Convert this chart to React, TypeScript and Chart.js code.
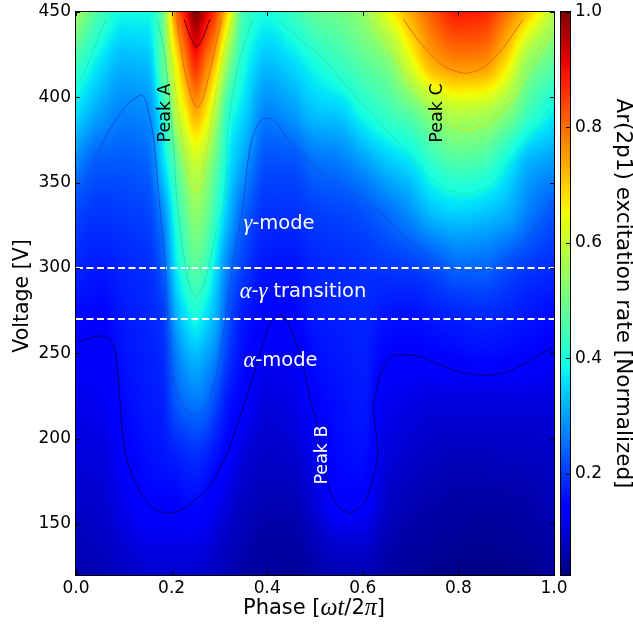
import React, { useEffect, useRef } from "react";
import { Chart, registerables } from "chart.js";

Chart.register(...registerables);

// ---------- data ----------
const phases = [0, 0.05, 0.1, 0.15, 0.18, 0.21, 0.23, 0.25, 0.27, 0.29, 0.32, 0.35, 0.4, 0.45, 0.5, 0.55, 0.6, 0.65, 0.7, 0.75, 0.8, 0.85, 0.9, 0.95, 1];
const voltages = [120, 140, 160, 190, 220, 250, 270, 300, 330, 360, 390, 420, 450];
const v120 = [.06, .068, .08, .09, .09, .09, .09, .09, .085, .08, .068, .055, .05, .045, .055, .068, .068, .055, .045, .035, .03, .03, .03, .035, .055];
const v140 = [.075, .08, .097, .115, .115, .115, .115, .115, .11, .097, .08, .068, .055, .055, .075, .097, .097, .068, .055, .05, .045, .04, .045, .05, .06];
const v160 = [.085, .09, .115, .142, .142, .142, .15, .15, .14, .125, .097, .08, .068, .068, .097, .14, .136, .085, .068, .06, .055, .055, .055, .06, .075];
const v190 = [.103, .103, .136, .158, .165, .175, .185, .19, .18, .163, .136, .103, .085, .09, .12, .152, .158, .103, .09, .08, .075, .075, .08, .08, .085];
const v220 = [.115, .12, .152, .169, .175, .23, .25, .26, .25, .215, .163, .14, .103, .11, .142, .158, .169, .12, .11, .103, .103, .103, .103, .103, .103];
const v250 = [.132, .136, .163, .175, .186, .27, .31, .33, .31, .28, .198, .158, .126, .126, .158, .169, .175, .146, .142, .146, .152, .158, .152, .146, .132];
const v270 = [.152, .146, .169, .181, .195, .31, .36, .39, .36, .32, .22, .169, .146, .146, .169, .175, .181, .163, .158, .169, .175, .181, .175, .163, .152];
const v300 = [.181, .169, .181, .19, .23, .37, .43, .47, .44, .37, .26, .205, .165, .163, .181, .186, .192, .198, .203, .22, .245, .245, .22, .198, .186];
const v330 = [.209, .195, .2, .21, .27, .41, .48, .53, .5, .43, .32, .24, .19, .19, .203, .209, .22, .245, .28, .325, .34, .33, .31, .26, .22];
const v360 = [.27, .23, .23, .24, .34, .47, .55, .6, .56, .49, .365, .3, .22, .22, .25, .26, .29, .33, .36, .42, .45, .44, .38, .31, .29];
const v390 = [.355, .3, .27, .28, .39, .58, .66, .73, .68, .58, .41, .355, .27, .29, .33, .34, .39, .43, .47, .54, .58, .57, .52, .43, .37];
const v420 = [.44, .365, .32, .33, .47, .66, .78, .87, .8, .72, .52, .4, .33, .355, .395, .43, .47, .51, .63, .74, .77, .765, .68, .53, .47];
const v450 = [.56, .45, .39, .39, .48, .8, .9, 1, .93, .86, .67, .45, .395, .43, .48, .5, .54, .64, .74, .83, .89, .88, .8, .7, .58];
const heatRows = [v120, v140, v160, v190, v220, v250, v270, v300, v330, v360, v390, v420, v450];

const contourNavy = [[0, 256.5], [.02, 258], [.049, 260.2], [.073, 257.5], [.0835, 248.7], [.092, 222.4], [.094, 210.7], [.104, 190.2], [.125, 173.8], [.157, 159.8], [.191, 156.3], [.219, 158], [.261, 166.8], [.288, 175.6], [.317, 192], [.355, 222.4], [.379, 244], [.407, 268.2], [.428, 272.6], [.442, 269], [.47, 247.8], [.491, 222.4], [.505, 206.8], [.525, 175.6], [.543, 162], [.574, 156.5], [.605, 163], [.631, 190.2], [.621, 218.5], [.623, 222.4], [.64, 240], [.658, 247.8], [.685, 249], [.72, 248.1], [.755, 243.9], [.804, 239], [.856, 237], [.901, 239], [.943, 244.8], [.999, 253.6]];
const contourBlue = [[.001, 347.2], [.014, 347.6], [.031, 358], [.073, 382.3], [.108, 396], [.139, 401.2], [.153, 390.1], [.163, 374.5], [.174, 339.4], [.186, 304.3], [.191, 271.1], [.196, 247.8], [.216, 222.4], [.23, 216.5], [.246, 214.2], [.264, 216.5], [.278, 222.4], [.296, 240], [.313, 271.1], [.33, 306.2], [.351, 339.4], [.358, 358.9], [.369, 376.5], [.386, 386.2], [.404, 387.8], [.421, 384.3], [.449, 373.5], [.511, 356], [.553, 349.2], [.602, 339.4], [.637, 332.6], [.685, 318.9], [.741, 306.2], [.79, 299.8], [.828, 298], [.866, 299.8], [.915, 308.2], [.957, 321.9], [.999, 339.4]];
const contourTealLeft = [[.001, 406.7], [.01, 409.6], [.031, 423.3], [.049, 437], [.063, 445.7]];
const contourTealPeakA = [[.17, 445.7], [.183, 430], [.195, 400], [.205, 368.7], [.211, 339.4], [.233, 294.5], [.25, 282.8], [.268, 291], [.296, 323.8], [.31, 339.4], [.317, 378.4], [.338, 417.4], [.369, 445.7]];
const contourTealRight = [[.421, 445.7], [.477, 432], [.511, 424.3], [.581, 401.8], [.651, 380.4], [.72, 358.9], [.769, 347.2], [.814, 343.3], [.859, 347.2], [.915, 362.8], [.964, 382.3], [.999, 397.9]];
const contourYellowPeakA = [[.19, 445.7], [.205, 410], [.222, 375], [.24, 350], [.25, 345], [.262, 350], [.28, 380], [.3, 415], [.325, 445.7]];
const contourYellowPeakC = [[.616, 445.7], [.651, 431], [.699, 409.6], [.755, 390.1], [.811, 381.4], [.859, 384.3], [.908, 397.9], [.957, 419.4], [.999, 440.8]];
const contourOrangePeakA = [[.211, 445.7], [.226, 417.4], [.244, 397.9], [.254, 394], [.264, 397.9], [.282, 417.4], [.304, 445.7]];
const contourOrangePeakC = [[.685, 445.7], [.72, 432], [.769, 418.4], [.814, 414.1], [.852, 417.4], [.894, 429.1], [.935, 445.7]];
const contourDarkRed = [[.226, 445.7], [.24, 435], [.252, 429.5], [.264, 434], [.28, 445.7]];

const transitionVoltages = [300, 270];
const xTicks = [0, 0.2, 0.4, 0.6, 0.8, 1];
const yTicks = [150, 200, 250, 300, 350, 400, 450];
const barTicks = [0.2, 0.4, 0.6, 0.8, 1];
const V_MIN = 0.025;
const V_MAX = 1;

const FONT = '"DejaVu Sans"';
const MATH = '"Liberation Serif"';

// ---------- helpers ----------
function ramp(t: number, pts: number[][]) {
  if (t <= pts[0][0]) return pts[0][1];
  for (let i = 1; i < pts.length; i++) {
    if (t <= pts[i][0]) {
      const [a, b] = pts[i - 1];
      const [c, d] = pts[i];
      return b + ((t - a) / (c - a)) * (d - b);
    }
  }
  return pts[pts.length - 1][1];
}
function jet(v: number) {
  const t = Math.min(1, Math.max(0, (v - V_MIN) / (V_MAX - V_MIN)));
  return [
    255 * ramp(t, [[0.35, 0], [0.66, 1], [0.89, 1], [1, 0.5]]),
    255 * ramp(t, [[0.125, 0], [0.375, 1], [0.64, 1], [0.91, 0]]),
    255 * ramp(t, [[0, 0.5], [0.11, 1], [0.34, 1], [0.65, 0]]),
  ];
}
// smooth shading between the grid cells, only used for painting
function smooth(xs: number[], ys: number[], x: number) {
  let i = 0;
  while (i < xs.length - 2 && x > xs[i + 1]) i++;
  const h = xs[i + 1] - xs[i];
  const d = (k: number) => (ys[k + 1] - ys[k]) / (xs[k + 1] - xs[k]);
  const slope = (k: number) => {
    if (k === 0) return d(0);
    if (k === xs.length - 1) return d(k - 1);
    const a = d(k - 1), b = d(k);
    if (a * b <= 0) return 0;
    return (2 * a * b) / (a + b);
  };
  const t = Math.min(1, Math.max(0, (x - xs[i]) / h));
  const t2 = t * t, t3 = t2 * t;
  return (2 * t3 - 3 * t2 + 1) * ys[i] + (t3 - 2 * t2 + t) * h * slope(i) + (-2 * t3 + 3 * t2) * ys[i + 1] + (t3 - t2) * h * slope(i + 1);
}

type Seg = [string, boolean?];
function drawRich(ctx: CanvasRenderingContext2D, segs: Seg[], cx: number, cy: number, size: number, color: string, rot = 0) {
  ctx.save();
  ctx.translate(cx, cy);
  ctx.rotate(rot);
  ctx.fillStyle = color;
  ctx.textBaseline = "middle";
  ctx.textAlign = "left";
  const fontOf = (m?: boolean) => (m ? `italic ${size * 1.15}px ${MATH}` : `${size}px ${FONT}`);
  let w = 0;
  for (const [s, m] of segs) {
    ctx.font = fontOf(m);
    w += ctx.measureText(s).width;
  }
  let x = -w / 2;
  for (const [s, m] of segs) {
    ctx.font = fontOf(m);
    ctx.fillText(s, x, 0);
    x += ctx.measureText(s).width;
  }
  ctx.restore();
}

const heatPlugin = {
  id: "heat",
  beforeDatasetsDraw(chart: any) {
    const { ctx, chartArea: a, scales } = chart;
    const W = Math.round(a.right - a.left), H = Math.round(a.bottom - a.top);
    const off = document.createElement("canvas");
    off.width = W; off.height = H;
    const octx = off.getContext("2d")!;
    const img = octx.createImageData(W, H);
    const colValues: number[][] = [];
    for (let px = 0; px < W; px++) {
      const ph = scales.x.getValueForPixel(a.left + px + 0.5);
      colValues.push(heatRows.map((r) => smooth(phases, r, ph)));
    }
    for (let py = 0; py < H; py++) {
      const vol = scales.y.getValueForPixel(a.top + py + 0.5);
      for (let px = 0; px < W; px++) {
        const [r, g, b] = jet(smooth(voltages, colValues[px], vol));
        const o = (py * W + px) * 4;
        img.data[o] = r; img.data[o + 1] = g; img.data[o + 2] = b; img.data[o + 3] = 255;
      }
    }
    octx.putImageData(img, 0, 0);
    ctx.drawImage(off, a.left, a.top);
  },
};

const framePlugin = {
  id: "frame",
  afterDatasetsDraw(chart: any) {
    const { ctx, chartArea: a, scales } = chart;
    const L = 4;
    ctx.save();
    ctx.strokeStyle = "#000";
    ctx.lineWidth = 1;
    ctx.beginPath();
    xTicks.forEach((t) => {
      const x = Math.round(scales.x.getPixelForValue(t)) + 0.5;
      ctx.moveTo(x, a.bottom); ctx.lineTo(x, a.bottom - L);
      ctx.moveTo(x, a.top); ctx.lineTo(x, a.top + L);
    });
    yTicks.forEach((t) => {
      const y = Math.round(scales.y.getPixelForValue(t)) + 0.5;
      ctx.moveTo(a.left, y); ctx.lineTo(a.left + L, y);
      ctx.moveTo(a.right, y); ctx.lineTo(a.right - L, y);
    });
    ctx.stroke();
    ctx.strokeRect(a.left - 0.5, a.top - 0.5, a.right - a.left + 1, a.bottom - a.top + 1);
    ctx.restore();
    const BLACK = "#000", WHITE = "#fff";
    const up = -Math.PI / 2;
    drawRich(ctx, [["Peak A"]], 165, 113, 17.5, BLACK, up);
    drawRich(ctx, [["Peak C"]], 437, 113, 17.5, BLACK, up);
    drawRich(ctx, [["Peak B"]], 322, 455, 17.5, WHITE, up);
    drawRich(ctx, [["γ", true], ["-mode"]], 279, 224, 19.5, WHITE);
    drawRich(ctx, [["α", true], ["-", false], ["γ", true], [" transition"]], 303, 292, 19.5, WHITE);
    drawRich(ctx, [["α", true], ["-mode"]], 280.5, 361, 19.5, WHITE);
    drawRich(ctx, [["Phase ["], ["ωt", true], ["/", false], ["2", false], ["π", true], ["]"]], 314, 609, 21, BLACK);
    drawRich(ctx, [["Voltage [V]"]], 23, 296, 20.5, BLACK, up);
  },
};

const barPlugin = {
  id: "bar",
  beforeDatasetsDraw(chart: any) {
    const { ctx, chartArea: a, scales } = chart;
    for (let py = Math.round(a.top); py < a.bottom; py++) {
      const [r, g, b] = jet(scales.y.getValueForPixel(py + 0.5));
      ctx.fillStyle = `rgb(${r},${g},${b})`;
      ctx.fillRect(a.left, py, a.right - a.left, 1);
    }
    ctx.save();
    ctx.strokeStyle = "#000";
    ctx.lineWidth = 1;
    ctx.beginPath();
    barTicks.forEach((t) => {
      const y = Math.round(scales.y.getPixelForValue(t)) + 0.5;
      ctx.moveTo(a.right, y); ctx.lineTo(a.right - 4, y);
    });
    ctx.stroke();
    ctx.strokeRect(a.left - 0.5, a.top - 0.5, a.right - a.left + 1, a.bottom - a.top + 1);
    ctx.restore();
  },
};

const line = (label: string, pts: number[][], color: string) => ({
  label,
  data: pts.map(([x, y]) => ({ x, y })),
  borderColor: color,
  borderWidth: 1,
  pointRadius: 0,
  showLine: true,
  tension: 0.25,
});

const noPad = (s: any) => {
  s.paddingTop = 0; s.paddingBottom = 0; s.paddingLeft = 0; s.paddingRight = 0;
};

export default function App() {
  const mainRef = useRef<HTMLCanvasElement>(null);
  const barRef = useRef<HTMLCanvasElement>(null);
  useEffect(() => {
    const main = new Chart(mainRef.current!, {
      type: "scatter",
      data: {
        datasets: [
          line("level 0.14", contourNavy, "#00006e"),
          line("level 0.25", contourBlue, "#1450dc"),
          line("level 0.4 a", contourTealLeft, "#28e6b4"),
          line("level 0.4 b", contourTealPeakA, "#28e6b4"),
          line("level 0.4 c", contourTealRight, "#28e6b4"),
          line("level 0.55 a", contourYellowPeakA, "#d2e628"),
          line("level 0.55 b", contourYellowPeakC, "#d2e628"),
          line("level 0.75 a", contourOrangePeakA, "#f06414"),
          line("level 0.75 b", contourOrangePeakC, "#f06414"),
          line("level 0.97", contourDarkRed, "#5a0014"),
          ...transitionVoltages.map((v) => ({
            label: `${v} V`,
            data: [{ x: 0, y: v }, { x: 1, y: v }],
            borderColor: "#fff",
            borderWidth: 2,
            borderDash: [7, 3.5],
            pointRadius: 0,
            showLine: true,
          })),
        ],
      },
      options: {
        animation: false,
        responsive: false,
        devicePixelRatio: 1,
        layout: { autoPadding: false, padding: { left: 0, top: 12, right: 79, bottom: 0 } },
        plugins: { legend: { display: false }, tooltip: { enabled: false } },
        scales: {
          x: {
            type: "linear",
            min: 0,
            max: 1,
            grid: { display: false, drawTicks: false },
            border: { display: false },
            afterBuildTicks: (s: any) => { s.ticks = xTicks.map((value) => ({ value })); },
            afterFit: (s: any) => { s.height = 53; noPad(s); },
            ticks: {
              autoSkip: false,
              maxRotation: 0,
              padding: 3,
              color: "#000",
              font: { family: FONT, size: 17 },
              callback: (v: any) => Number(v).toFixed(1),
            },
          },
          y: {
            type: "linear",
            min: 120,
            max: 450,
            grid: { display: false, drawTicks: false },
            border: { display: false },
            afterBuildTicks: (s: any) => { s.ticks = yTicks.map((value) => ({ value })); },
            afterFit: (s: any) => { s.width = 76; noPad(s); },
            ticks: {
              autoSkip: false,
              padding: 5,
              color: "#000",
              font: { family: FONT, size: 17 },
            },
          },
        },
      },
      plugins: [heatPlugin, framePlugin],
    } as any);
    const bar = new Chart(barRef.current!, {
      type: "scatter",
      data: { datasets: [{ label: "colour scale", data: [] }] },
      options: {
        animation: false,
        responsive: false,
        devicePixelRatio: 1,
        layout: { autoPadding: false, padding: { left: 6, top: 12, right: 0, bottom: 53 } },
        plugins: { legend: { display: false }, tooltip: { enabled: false } },
        scales: {
          x: { display: false, min: 0, max: 1 },
          y: {
            type: "linear",
            position: "right",
            min: V_MIN,
            max: V_MAX,
            grid: { display: false, drawTicks: false },
            border: { display: false },
            afterBuildTicks: (s: any) => { s.ticks = barTicks.map((value) => ({ value })); },
            afterFit: (s: any) => { s.width = 63; noPad(s); },
            title: {
              display: true,
              text: "Ar(2p1) excitation rate [Normalized]",
              color: "#000",
              font: { family: FONT, size: 21.5, lineHeight: 1 },
              padding: { top: 0, bottom: 0 },
            },
            ticks: {
              autoSkip: false,
              padding: 5,
              color: "#000",
              font: { family: FONT, size: 17 },
              callback: (v: any) => Number(v).toFixed(1),
            },
          },
        },
      },
      plugins: [barPlugin],
    } as any);
    return () => {
      main.destroy();
      bar.destroy();
    };
  }, []);
  return (
    <div>
      <canvas ref={mainRef} width={633} height={628} style={{ position: "absolute", left: 0, top: 0 }} />
      <canvas ref={barRef} width={78} height={628} style={{ position: "absolute", left: 555, top: 0 }} />
    </div>
  );
}
